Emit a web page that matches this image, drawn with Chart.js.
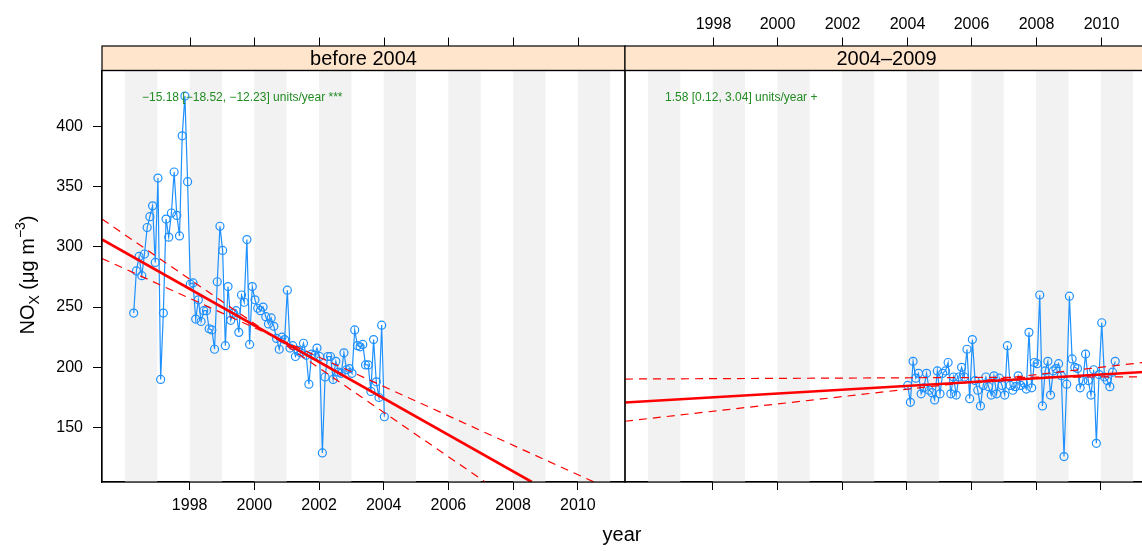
<!DOCTYPE html>
<html>
<head>
<meta charset="utf-8">
<script src="https://cdn.jsdelivr.net/npm/chart.js@4.4.1/dist/chart.umd.min.js"></script>
<style>
html, body { margin: 0; padding: 0; background: #fff; overflow: hidden; }
#wrap { position: relative; width: 1142px; height: 551px; overflow: hidden; }
canvas { position: absolute; top: 0; }
#cvBefore { left: 0; }
#cvAfter { left: 600px; }
#xtitle { position: absolute; left: 522px; width: 200px; top: 523px; line-height: 23px;
  text-align: center; font: 20px "Liberation Sans", Arial, sans-serif; color: #000; }
</style>
</head>
<body>
<div id="wrap">
  <canvas id="cvBefore" width="626" height="551"></canvas>
  <canvas id="cvAfter" width="548" height="551"></canvas>
  <div id="xtitle">year</div>
</div>
<script>
// axes
const xMin = 1995.29, xMax = 2011.46;
const yMin = 104.9, yMax = 446.2;
const yearTicks = [1998, 2000, 2002, 2004, 2006, 2008, 2010];
const valueTicks = [150, 200, 250, 300, 350, 400];
const shadeYears = [1996, 1998, 2000, 2002, 2004, 2006, 2008, 2010];

// monthly NOx, before 2004
const beforeStart = 1996.27;
const beforeNOx = [245, 280, 292, 276, 294, 316, 325, 334, 287, 357,
  190, 245, 323, 308, 328, 362, 326, 309, 392, 425,
  354, 269, 270, 240, 256, 238, 247, 247, 232, 231,
  215, 271, 317, 297, 218, 267, 239, 245, 247, 229,
  260, 254, 306, 219, 267, 256, 249, 247, 250, 242,
  236, 241, 234, 224, 215, 225, 223, 264, 216, 218,
  209, 214, 212, 220, 210, 186, 211, 210, 216, 209,
  129, 192, 209, 209, 190, 205, 196, 195, 212, 198,
  199, 195, 231, 218, 217, 219, 202, 202, 180, 223,
  188, 175, 235, 159];

// monthly NOx, 2004-2009
const afterStart = 2004.03;
const afterNOx = [185, 171, 205, 191, 195, 178, 183, 195, 181, 179,
  173, 197, 178, 195, 197, 204, 178, 192, 177, 192,
  200, 192, 215, 174, 223, 189, 181, 168, 185, 192,
  184, 177, 193, 178, 191, 185, 177, 218, 185, 181,
  184, 193, 185, 187, 182, 229, 183, 204, 203, 260,
  168, 197, 205, 177, 197, 199, 203, 193, 126, 186,
  259, 207, 200, 199, 183, 189, 211, 189, 177, 198,
  137, 194, 237, 192, 189, 184, 196, 205];

// Theil-Sen lines (end points)
const beforeTrendX = [1995.29, 2008.58], beforeTrendY = [306.1, 104.9];
const beforeCiAX = [1995.29, 2007.14], beforeCiAY = [323.0, 104.9];
const beforeCiBX = [1995.29, 2010.5], beforeCiBY = [290.3, 104.9];
const afterTrendX = [1995.29, 2011.46], afterTrendY = [170.8, 196.3];
const afterCiAX = [1995.29, 2011.46], afterCiAY = [190.3, 192.2];
const afterCiBX = [1995.29, 2011.46], afterCiBY = [155.3, 204.5];

const FONT = '"Liberation Sans", Arial, Helvetica, sans-serif';
const dataBlue = '#1e90ff';

function toPoints(xs, ys) {
    return xs.map((x, i) => ({ x: x, y: ys[i] }));
}

function monthly(start, values) {
    return values.map((v, i) => ({ x: start + i / 12, y: v }));
}

function drawYTitle(ctx) {
    const parts = [
        { t: 'NO', size: 20, dy: 0 },
        { t: 'X', size: 14, dy: 5 },
        { t: ' (\u03bcg m', size: 20, dy: 0 },
        { t: '\u22123', size: 14, dy: -9 },
        { t: ')', size: 20, dy: 0 }
    ];
    ctx.save();
    let w = 0;
    parts.forEach(p => { ctx.font = p.size + 'px ' + FONT; w += ctx.measureText(p.t).width; });
    ctx.translate(33.5, 275);
    ctx.rotate(-Math.PI / 2);
    ctx.fillStyle = '#000';
    ctx.textBaseline = 'alphabetic';
    ctx.textAlign = 'left';
    let cx = -w / 2;
    parts.forEach(p => {
        ctx.font = p.size + 'px ' + FONT;
        ctx.fillText(p.t, cx, p.dy);
        cx += ctx.measureText(p.t).width;
    });
    ctx.restore();
}

const panelDecor = {
    id: 'panelDecor',
    beforeDatasetsDraw(chart, args, o) {
        const { ctx, chartArea: a, scales: { x } } = chart;
        ctx.save();
        ctx.fillStyle = '#f2f2f2';
        shadeYears.forEach(yr => {
            const x0 = x.getPixelForValue(yr);
            const x1 = Math.min(x.getPixelForValue(yr + 1), a.right);
            ctx.fillRect(x0, a.top, x1 - x0, a.bottom - a.top);
        });
        ctx.restore();
    },
    afterDraw(chart, args, o) {
        const { ctx, chartArea: a, scales: { x } } = chart;
        ctx.save();
        // strip
        const stripTop = 46;
        ctx.fillStyle = '#ffe5cc';
        ctx.fillRect(a.left, stripTop, a.right - a.left, a.top - stripTop);
        ctx.strokeStyle = '#000';
        ctx.lineWidth = 1.2;
        ctx.strokeRect(a.left, stripTop, a.right - a.left, a.top - stripTop);
        ctx.strokeRect(a.left, a.top, a.right - a.left, a.bottom - a.top);
        ctx.fillStyle = '#000';
        ctx.font = '20px ' + FONT;
        ctx.textAlign = 'center';
        ctx.textBaseline = 'middle';
        ctx.fillText(o.strip, (a.left + a.right) / 2, (stripTop + a.top) / 2 + 1);

        // top ticks
        ctx.lineWidth = 1;
        ctx.font = '16px ' + FONT;
        ctx.textBaseline = 'alphabetic';
        yearTicks.forEach(yr => {
            const px = Math.round(x.getPixelForValue(yr)) + 0.5;
            ctx.beginPath();
            ctx.moveTo(px, 37.5);
            ctx.lineTo(px, stripTop);
            ctx.stroke();
            if (o.topLabels) ctx.fillText(String(yr), px, 28.5);
        });

        // slope annotation
        ctx.fillStyle = '#228b22';
        ctx.font = '12px ' + FONT;
        ctx.textAlign = 'left';
        ctx.fillText(o.note, o.noteX, 100.5);

        if (o.yTitle) drawYTitle(ctx);
        ctx.restore();
    }
};

function makePanel(id, cfg) {
    const datasets = [
        { data: toPoints(cfg.trendX, cfg.trendY), borderColor: '#ff0000', borderWidth: 2.6, pointRadius: 0, order: 0 },
        { data: toPoints(cfg.ciAX, cfg.ciAY), borderColor: '#ff0000', borderWidth: 1.2, borderDash: [8, 6], pointRadius: 0, order: 0 },
        { data: toPoints(cfg.ciBX, cfg.ciBY), borderColor: '#ff0000', borderWidth: 1.2, borderDash: [8, 6], pointRadius: 0, order: 0 },
        {
            data: monthly(cfg.start, cfg.values),
            borderColor: dataBlue, borderWidth: 1.2,
            pointRadius: 4, pointBorderWidth: 1.2,
            pointBorderColor: dataBlue, pointBackgroundColor: 'rgba(0,0,0,0)',
            order: 1
        }
    ];

    return new Chart(document.getElementById(id), {
        type: 'line',
        data: { datasets: datasets },
        options: {
            responsive: false,
            animation: false,
            events: [],
            layout: { padding: cfg.padding, autoPadding: false },
            plugins: {
                legend: { display: false },
                tooltip: { enabled: false },
                panelDecor: { strip: cfg.strip, topLabels: cfg.topLabels, note: cfg.note, noteX: cfg.noteX, yTitle: cfg.yTitle }
            },
            scales: {
                x: {
                    type: 'linear', position: 'bottom', min: xMin, max: xMax,
                    afterBuildTicks: s => { s.ticks = yearTicks.map(v => ({ value: v })); },
                    afterFit: s => { s.height = 69; s.paddingLeft = 0; s.paddingRight = 0; },
                    ticks: {
                        display: cfg.bottomLabels, color: '#000', padding: 6,
                        font: { size: 16, family: FONT }, maxRotation: 0, autoSkip: false,
                        callback: v => String(v)
                    },
                    grid: { drawOnChartArea: false, drawTicks: true, tickLength: 8, color: '#000', lineWidth: 1 },
                    border: { display: true, color: '#000', width: 1.2 }
                },
                y: {
                    type: 'linear', position: 'left', min: yMin, max: yMax,
                    display: cfg.yAxis,
                    afterBuildTicks: s => { s.ticks = valueTicks.map(v => ({ value: v })); },
                    afterFit: s => {
                        s.width = cfg.yAxis ? 102 : 0;
                        s.paddingTop = 0; s.paddingBottom = 0;
                    },
                    ticks: {
                        color: '#000', padding: 10, font: { size: 16, family: FONT },
                        callback: v => String(v)
                    },
                    grid: { drawOnChartArea: false, drawTicks: true, tickLength: 9, color: '#000', lineWidth: 1 },
                    border: { display: true, color: '#000', width: 1.2 }
                }
            }
        },
        plugins: [panelDecor]
    });
}

var beforeChart = makePanel('cvBefore', {
    start: beforeStart, values: beforeNOx,
    trendX: beforeTrendX, trendY: beforeTrendY,
    ciAX: beforeCiAX, ciAY: beforeCiAY,
    ciBX: beforeCiBX, ciBY: beforeCiBY,
    padding: { left: 0, right: 1, top: 70.5, bottom: 0 },
    strip: 'before 2004', topLabels: false, bottomLabels: true, yAxis: true, yTitle: true,
    note: '\u221215.18 [\u221218.52, \u221212.23] units/year ***', noteX: 142
});

var afterChart = makePanel('cvAfter', {
    start: afterStart, values: afterNOx,
    trendX: afterTrendX, trendY: afterTrendY,
    ciAX: afterCiAX, ciAY: afterCiAY,
    ciBX: afterCiBX, ciBY: afterCiBY,
    padding: { left: 25, right: 0, top: 70.5, bottom: 0 },
    strip: '2004\u20132009', topLabels: true, bottomLabels: false, yAxis: false, yTitle: false,
    note: '1.58 [0.12, 3.04] units/year +', noteX: 65
});
</script>
</body>
</html>
